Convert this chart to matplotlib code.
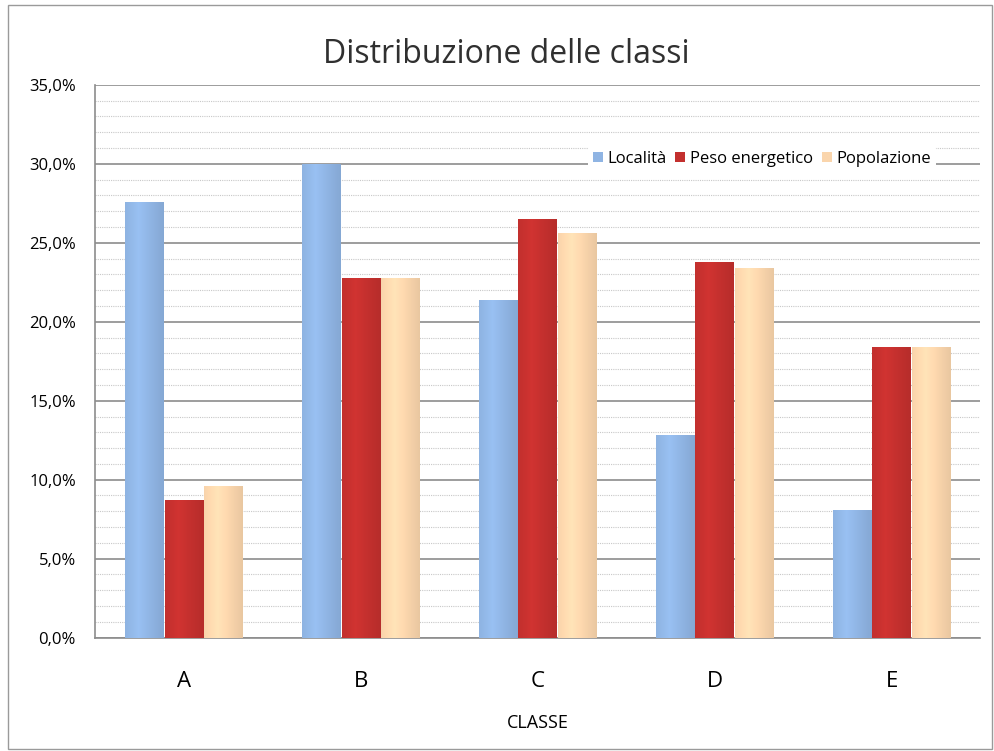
import numpy as np
import matplotlib
matplotlib.use('Agg')
import matplotlib.pyplot as plt
from matplotlib.colors import to_rgb
from matplotlib.patches import Rectangle
from matplotlib.ticker import MultipleLocator, FuncFormatter

classi = ['A', 'B', 'C', 'D', 'E']
serie = ['Località', 'Peso energetico', 'Popolazione']
localita = [27.6, 30.0, 21.4, 12.8, 8.1]
peso = [8.7, 22.8, 26.5, 23.8, 18.4]
popolazione = [9.6, 22.8, 25.6, 23.4, 18.4]
colori = ['#8fb4e3', '#c3302e', '#fad5ac']

plt.rcParams['font.family'] = ['Open Sans', 'DejaVu Sans']

fig = plt.figure(figsize=(9.94, 7.51), dpi=100)
ax = fig.add_axes([0.096, 0.151, 0.890, 0.736])

# outer frame of the chart
fig.patches.append(Rectangle((0.008, 0.002), 0.990, 0.992, transform=fig.transFigure,
                             fill=False, edgecolor='#9a9a9a', linewidth=1.0))

x = np.arange(len(classi))
w = 0.225
valori = [localita, peso, popolazione]


def shade(col):
    # cylinder-like horizontal shading
    base = np.array(to_rgb(col))
    t = np.linspace(0, 1, 64)
    light = 1 - 0.28 * np.abs(t - 0.35) / 0.65
    light = light ** 1.5
    rgb = np.clip(base[None, :] * (0.72 + 0.35 * light[:, None]), 0, 1)
    return rgb[None, :, :]


for i, (vals, col) in enumerate(zip(valori, colori)):
    bars = ax.bar(x + (i - 1) * w, vals, w * 0.97, color=col, label=serie[i],
                  zorder=3, linewidth=0)
    img = shade(col)
    for b in bars:
        x0, y0 = b.get_x(), b.get_y()
        im = ax.imshow(img, extent=[x0, x0 + b.get_width(), y0, y0 + b.get_height()],
                       aspect='auto', zorder=3.5, interpolation='bilinear')
        im.set_clip_path(b)

ax.set_xlim(-0.5, 4.5)
ax.set_ylim(0, 35)
ax.yaxis.set_major_locator(MultipleLocator(5))
ax.yaxis.set_minor_locator(MultipleLocator(1))
ax.yaxis.set_major_formatter(FuncFormatter(lambda v, p: f'{v:.1f}%'.replace('.', ',')))
ax.set_xticks(x)
ax.set_xticklabels(classi, fontsize=16)
ax.tick_params(axis='y', labelsize=12, length=0, pad=14)
ax.tick_params(axis='x', length=0, pad=24)
ax.tick_params(which='minor', length=0)

ax.grid(axis='y', which='major', color='#8c8c8c', linewidth=1.2, zorder=0)
ax.grid(axis='y', which='minor', color='#c8c8c8', linewidth=0.8, linestyle=(0, (1, 1)), zorder=0)
ax.set_axisbelow(True)

for s in ['top', 'right']:
    ax.spines[s].set_visible(False)
ax.spines['left'].set_color('#8c8c8c')
ax.spines['bottom'].set_color('#8c8c8c')
ax.spines['left'].set_linewidth(1.2)
ax.spines['bottom'].set_linewidth(1.2)

ax.set_xlabel('CLASSE', fontsize=13, labelpad=16)
fig.text(0.509, 0.928, 'Distribuzione delle classi', ha='center', va='center',
         fontsize=23, color='#303030')

leg = ax.legend(loc='upper right', bbox_to_anchor=(0.96, 0.905), ncol=3, frameon=True,
                fontsize=12, handlelength=0.6, handleheight=0.6, handletextpad=0.3,
                columnspacing=0.5, borderpad=0.3)
leg.get_frame().set_facecolor('white')
leg.get_frame().set_edgecolor('none')
leg.get_frame().set_alpha(1)

fig.savefig('out.png', dpi=100)
